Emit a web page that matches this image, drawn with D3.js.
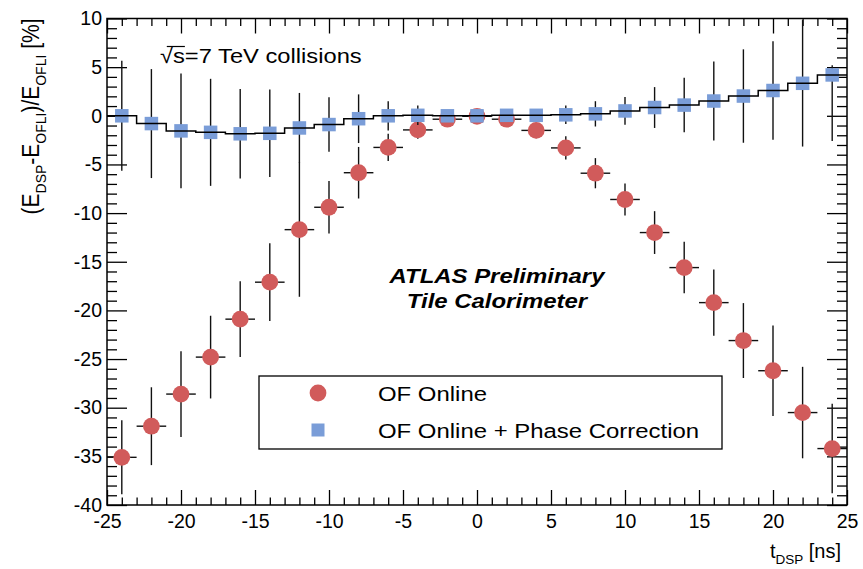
<!DOCTYPE html>
<html>
<head>
<meta charset="utf-8">
<script src="https://cdn.jsdelivr.net/npm/d3@7"></script>
<style>
  html, body { margin: 0; padding: 0; background: #fff; }
  svg { display: block; }
  text { font-family: "Liberation Sans", Arial, Helvetica, sans-serif; fill: #000; }
</style>
</head>
<body>
<svg id="chart" width="863" height="569"></svg>
<script>
// DSP time bins (ns) and their half width
const tDsp = [-24, -22, -20, -18, -16, -14, -12, -10, -8, -6, -4, -2, 0, 2, 4, 6, 8, 10, 12, 14, 16, 18, 20, 22, 24];
const binHalfWidth = 1;

// OF Online: relative energy difference (%) and its error
const ofOnline = [-35.1, -31.9, -28.6, -24.8, -20.9, -17.1, -11.7, -9.4, -5.85, -3.25, -1.45, -0.35, -0.05,
                  -0.35, -1.5, -3.3, -5.9, -8.6, -12.0, -15.6, -19.2, -23.1, -26.2, -30.5, -34.2];
const ofOnlineErr = [3.8, 4.0, 4.4, 4.25, 3.9, 4.0, 6.9, 2.7, 2.65, 1.4, 0.9, 0.4, 0.3,
                     0.4, 0.8, 1.2, 1.55, 1.65, 2.2, 2.65, 3.4, 3.85, 4.65, 4.7, 4.6];

// OF Online + Phase Correction (%) and its errors
const ofPhaseCorr = [0.0, -0.8, -1.55, -1.7, -1.85, -1.8, -1.25, -0.9, -0.3, 0.0, 0.05, 0.0, 0.0,
                     0.05, 0.05, 0.1, 0.2, 0.5, 0.85, 1.1, 1.52, 2.03, 2.6, 3.34, 4.2];
const ofPhaseErrUp = [5.65, 5.6, 5.9, 5.5, 4.6, 4.5, 3.6, 2.8, 2.5, 1.5, 1.0, 0.4, 0.2,
                      0.3, 0.4, 0.95, 1.3, 1.43, 2.1, 2.8, 4.05, 4.8, 5.05, 6.5, 1.0];
const ofPhaseErrDown = [5.65, 5.6, 5.9, 5.5, 4.6, 4.5, 3.6, 2.8, 2.5, 1.5, 1.0, 0.4, 0.2,
                        0.3, 0.4, 0.95, 1.3, 1.43, 2.1, 2.8, 4.05, 4.8, 5.05, 6.5, 6.8];

// Axis ticks
const xTicks = [-25, -20, -15, -10, -5, 0, 5, 10, 15, 20, 25];
const yTicks = [10, 5, 0, -5, -10, -15, -20, -25, -30, -35, -40];
const legendLabels = ["OF Online", "OF Online + Phase Correction"];

const RED = "#d15b5b";
const BLUE = "#7a9dd8";
const INK = "#111";
const FONT = '"Liberation Sans", Arial, Helvetica, sans-serif';

const frame = { left: 107, right: 847, top: 18.5, bottom: 505 };
const svg = d3.select("#chart");

const x = d3.scaleLinear().domain([-25, 25]).range([frame.left, frame.right]);
const y = d3.scaleLinear().domain([-40, 10]).range([frame.bottom, frame.top]);

const xMinor = d3.range(-25, 26, 1).filter(v => v % 5 !== 0);
const yMinor = d3.range(-40, 11, 1).filter(v => v % 5 !== 0);

function styleAxis(g, labels) {
  g.select(".domain").remove();
  g.selectAll("line").attr("stroke", "#000").attr("stroke-width", 1.3);
  g.attr("font-family", FONT).attr("font-size", 19.5);
  if (!labels) g.selectAll("text").remove();
  g.selectAll("text").attr("fill", "#000");
}

// Bottom / left axes with labels, ticks pointing into the frame
svg.append("g").attr("transform", `translate(0,${frame.bottom})`)
  .call(d3.axisBottom(x).tickValues(xTicks).tickSizeInner(-15).tickSizeOuter(0).tickPadding(9).tickFormat(d => String(d)))
  .call(g => styleAxis(g, true));
svg.append("g").attr("transform", `translate(0,${frame.bottom})`)
  .call(d3.axisBottom(x).tickValues(xMinor).tickSizeInner(-7.5).tickSizeOuter(0).tickFormat(""))
  .call(g => styleAxis(g, false));
svg.append("g").attr("transform", `translate(${frame.left},0)`)
  .call(d3.axisLeft(y).tickValues(yTicks).tickSizeInner(-20).tickSizeOuter(0).tickPadding(5).tickFormat(d => String(d)))
  .call(g => styleAxis(g, true));
svg.append("g").attr("transform", `translate(${frame.left},0)`)
  .call(d3.axisLeft(y).tickValues(yMinor).tickSizeInner(-10).tickSizeOuter(0).tickFormat(""))
  .call(g => styleAxis(g, false));

// Mirrored ticks on top and right
svg.append("g").attr("transform", `translate(0,${frame.top})`)
  .call(d3.axisTop(x).tickValues(xTicks).tickSizeInner(-15).tickSizeOuter(0).tickFormat(""))
  .call(g => styleAxis(g, false));
svg.append("g").attr("transform", `translate(0,${frame.top})`)
  .call(d3.axisTop(x).tickValues(xMinor).tickSizeInner(-7.5).tickSizeOuter(0).tickFormat(""))
  .call(g => styleAxis(g, false));
svg.append("g").attr("transform", `translate(${frame.right},0)`)
  .call(d3.axisRight(y).tickValues(yTicks).tickSizeInner(-20).tickSizeOuter(0).tickFormat(""))
  .call(g => styleAxis(g, false));
svg.append("g").attr("transform", `translate(${frame.right},0)`)
  .call(d3.axisRight(y).tickValues(yMinor).tickSizeInner(-10).tickSizeOuter(0).tickFormat(""))
  .call(g => styleAxis(g, false));

const redData = tDsp.map((t, i) => ({ t, v: ofOnline[i], e: ofOnlineErr[i] }));
const blueData = tDsp.map((t, i) => ({ t, v: ofPhaseCorr[i], up: ofPhaseErrUp[i], dn: ofPhaseErrDown[i] }));

const plot = svg.append("g");

// OF Online error bars
const redErr = plot.append("g").attr("stroke", INK).attr("stroke-width", 1.4);
redErr.selectAll("line.v").data(redData).join("line").attr("class", "v")
  .attr("x1", d => x(d.t)).attr("x2", d => x(d.t))
  .attr("y1", d => y(d.v + d.e)).attr("y2", d => y(d.v - d.e));
redErr.selectAll("line.h").data(redData).join("line").attr("class", "h")
  .attr("x1", d => x(d.t - binHalfWidth)).attr("x2", d => x(d.t + binHalfWidth))
  .attr("y1", d => y(d.v)).attr("y2", d => y(d.v));

// OF Online markers
plot.append("g").selectAll("circle").data(redData).join("circle")
  .attr("cx", d => x(d.t)).attr("cy", d => y(d.v)).attr("r", 8.4).attr("fill", RED);

// Phase-corrected error bars
plot.append("g").attr("stroke", INK).attr("stroke-width", 1.4)
  .selectAll("line").data(blueData).join("line")
  .attr("x1", d => x(d.t)).attr("x2", d => x(d.t))
  .attr("y1", d => y(d.v + d.up)).attr("y2", d => y(d.v - d.dn));

// Phase-corrected markers
const sq = 13.5;
plot.append("g").selectAll("rect").data(blueData).join("rect")
  .attr("x", d => x(d.t) - sq / 2).attr("y", d => y(d.v) - sq / 2)
  .attr("width", sq).attr("height", sq).attr("fill", BLUE);

// Histogram outline of the phase-corrected values
const stepPts = blueData.map(d => [d.t - binHalfWidth, d.v]);
const lastBin = blueData[blueData.length - 1];
stepPts.push([lastBin.t + binHalfWidth, lastBin.v]);
plot.append("path")
  .attr("d", d3.line().x(d => x(d[0])).y(d => y(d[1])).curve(d3.curveStepAfter)(stepPts))
  .attr("fill", "none").attr("stroke", "#000").attr("stroke-width", 1.5);

// Frame
svg.append("rect")
  .attr("x", frame.left).attr("y", frame.top)
  .attr("width", frame.right - frame.left).attr("height", frame.bottom - frame.top)
  .attr("fill", "none").attr("stroke", "#000").attr("stroke-width", 1.5);

// Legend
const lg = svg.append("g");
lg.append("rect").attr("x", 259).attr("y", 376).attr("width", 463).attr("height", 73)
  .attr("fill", "#fff").attr("stroke", "#000").attr("stroke-width", 1.3);
lg.append("circle").attr("cx", 318).attr("cy", 393).attr("r", 8.4).attr("fill", RED);
lg.append("rect").attr("x", 318 - 6.5).attr("y", 430 - 6.5).attr("width", 13).attr("height", 13).attr("fill", BLUE);
[401, 438].forEach((by, i) => {
  lg.append("text").attr("transform", `translate(378,${by}) scale(1.14,1)`)
    .attr("font-size", 21).text(legendLabels[i]);
});

// Collision energy label with radical overbar
const sqrtG = svg.append("g").attr("transform", "translate(160,63) scale(1.13,1)");
const sqrtText = sqrtG.append("text").attr("font-size", 21).text("\u221As=7 TeV collisions");
{
  const n = sqrtText.node();
  const x0 = n.getStartPositionOfChar(0).x + 6;
  const x1 = n.getEndPositionOfChar(1).x;
  sqrtG.append("line").attr("x1", x0).attr("x2", x1).attr("y1", -16.5).attr("y2", -16.5)
    .attr("stroke", "#000").attr("stroke-width", 1.2);
}

// Experiment label
[["ATLAS Preliminary", 283], ["Tile Calorimeter", 308]].forEach(([s, by]) => {
  svg.append("text").attr("transform", `translate(497,${by}) scale(1.14,1)`)
    .attr("text-anchor", "middle").attr("font-size", 21)
    .attr("font-weight", "bold").attr("font-style", "italic").text(s);
});

// Y axis title
const subShift = 6;
const yt = svg.append("text")
  .attr("transform", `translate(39,${frame.top}) rotate(-90) scale(1,1.1)`)
  .attr("text-anchor", "end").attr("font-size", 21);
yt.append("tspan").text("(E");
yt.append("tspan").attr("font-size", 14).attr("dy", subShift).text("DSP");
yt.append("tspan").attr("dy", -subShift).text("-E");
yt.append("tspan").attr("font-size", 14).attr("dy", subShift).text("OFLI");
yt.append("tspan").attr("dy", -subShift).text(")/E");
yt.append("tspan").attr("font-size", 14).attr("dy", subShift).text("OFLI");
yt.append("tspan").attr("dy", -subShift).text(" [%]");

// X axis title
const xt = svg.append("text")
  .attr("transform", "translate(841,558)")
  .attr("text-anchor", "end").attr("font-size", 20);
xt.append("tspan").text("t");
xt.append("tspan").attr("font-size", 13.5).attr("dy", subShift).text("DSP");
xt.append("tspan").attr("dy", -subShift).text(" [ns]");
</script>
</body>
</html>
